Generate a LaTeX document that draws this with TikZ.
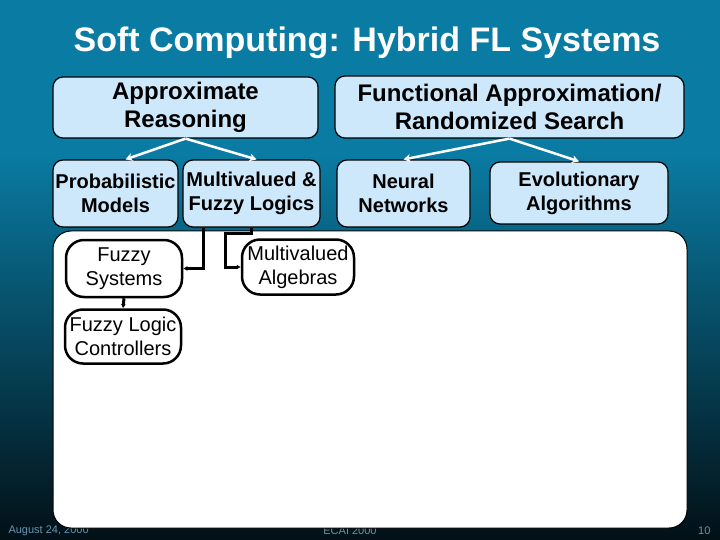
\documentclass[tikz,border=0pt]{standalone}
\usepackage{fontspec}
\setmainfont{Liberation Sans}
\usepackage{xcolor}
\usepackage{tikz}
\usetikzlibrary{arrows.meta}

\definecolor{slidetop}{RGB}{10,124,163}
\definecolor{slidebot}{RGB}{2,16,22}
\definecolor{boxblue}{RGB}{204,232,250}
\definecolor{footgray}{RGB}{100,150,178}

\tikzset{
	topbox/.style={draw=black,line width=1.2pt,fill=boxblue,rounded corners=10pt,
		align=center,inner sep=0pt},
	subbox/.style={draw=black,line width=2.5pt,fill=white,rounded corners=18pt,
		align=center,inner sep=0pt,font=\fontsize{20}{24}\selectfont},
	whitearrow/.style={white,line width=2.5pt,-{Stealth[length=7pt,width=8pt]}},
	link/.style={black,line width=3pt,-{Latex[length=4pt,width=5pt]}},
	foot/.style={footgray,font=\fontsize{11}{12}\selectfont}
}

\begin{document}
\begin{tikzpicture}[x=1pt,y=-1pt]
		\useasboundingbox (0,0) rectangle (720,540);
		\fill[slidetop] (0,0) rectangle (720,152);
		\shade[top color=slidetop,bottom color=slidebot] (0,150) rectangle (720,540);
		\node[white,font=\fontsize{34}{38}\selectfont\bfseries] (title) at (367,43)
			{Soft Computing: Hybrid FL Systems};
		% footer
		\node[foot,anchor=west] (date) at (5,531) {August 24, 2000};
		\node[foot] (conf) at (350,531) {ECAI 2000};
		\node[foot,anchor=east] (page) at (714,531) {10};
		\draw[black,line width=1pt,fill=white,rounded corners=18pt]
			(53,231) rectangle (687,528);
		% upper boxes
		\node[topbox,minimum width=265pt,minimum height=61pt,
			font=\fontsize{24}{28}\selectfont\bfseries] (ar) at (185.5,107.5)
			{Approximate\\Reasoning};
		\node[topbox,minimum width=349pt,minimum height=62pt,
			font=\fontsize{24}{28}\selectfont\bfseries] (fa) at (509.5,107)
			{Functional Approximation/\\Randomized Search};
		\node[topbox,minimum width=125pt,minimum height=67pt,
			font=\fontsize{20}{24}\selectfont\bfseries] (pm) at (115.5,193.5)
			{Probabilistic\\Models};
		\node[topbox,minimum width=137pt,minimum height=67pt,
			font=\fontsize{20}{24}\selectfont\bfseries] (mf) at (251.5,193.5)
			{Multivalued \&\\Fuzzy Logics};
		\node[topbox,minimum width=133pt,minimum height=67pt,
			font=\fontsize{20}{24}\selectfont\bfseries] (nn) at (403.5,193.5)
			{Neural\\Networks};
		\node[topbox,minimum width=178pt,minimum height=62pt,
			font=\fontsize{20}{24}\selectfont\bfseries] (ea) at (579,193)
			{Evolutionary\\Algorithms};
		\draw[whitearrow] (ar.south) -- ([xshift=10pt]pm.north);
		\draw[whitearrow] (ar.south) -- ([xshift=5pt]mf.north);
		\draw[whitearrow] (fa.south) -- (nn.north);
		\draw[whitearrow] (fa.south) -- (ea.north);
		% white panel boxes
		\node[subbox,minimum width=116pt,minimum height=57pt] (fs) at (124,268.5)
			{Fuzzy\\Systems};
		\node[subbox,minimum width=116pt,minimum height=54pt] (flc) at (123,336.5)
			{Fuzzy Logic\\Controllers};
		\node[subbox,minimum width=112pt,minimum height=55pt] (ma) at (298,267)
			{Multivalued\\Algebras};
		\draw[link] ([xshift=-48.5pt]mf.south) |- (fs.east);
		\draw[link] (mf.south) -- ++(0,6) -| ([xshift=-15pt]ma.west) -- (ma.west);
		\draw[link] (fs.south) -- (flc.north);
	\end{tikzpicture}
\end{document}
